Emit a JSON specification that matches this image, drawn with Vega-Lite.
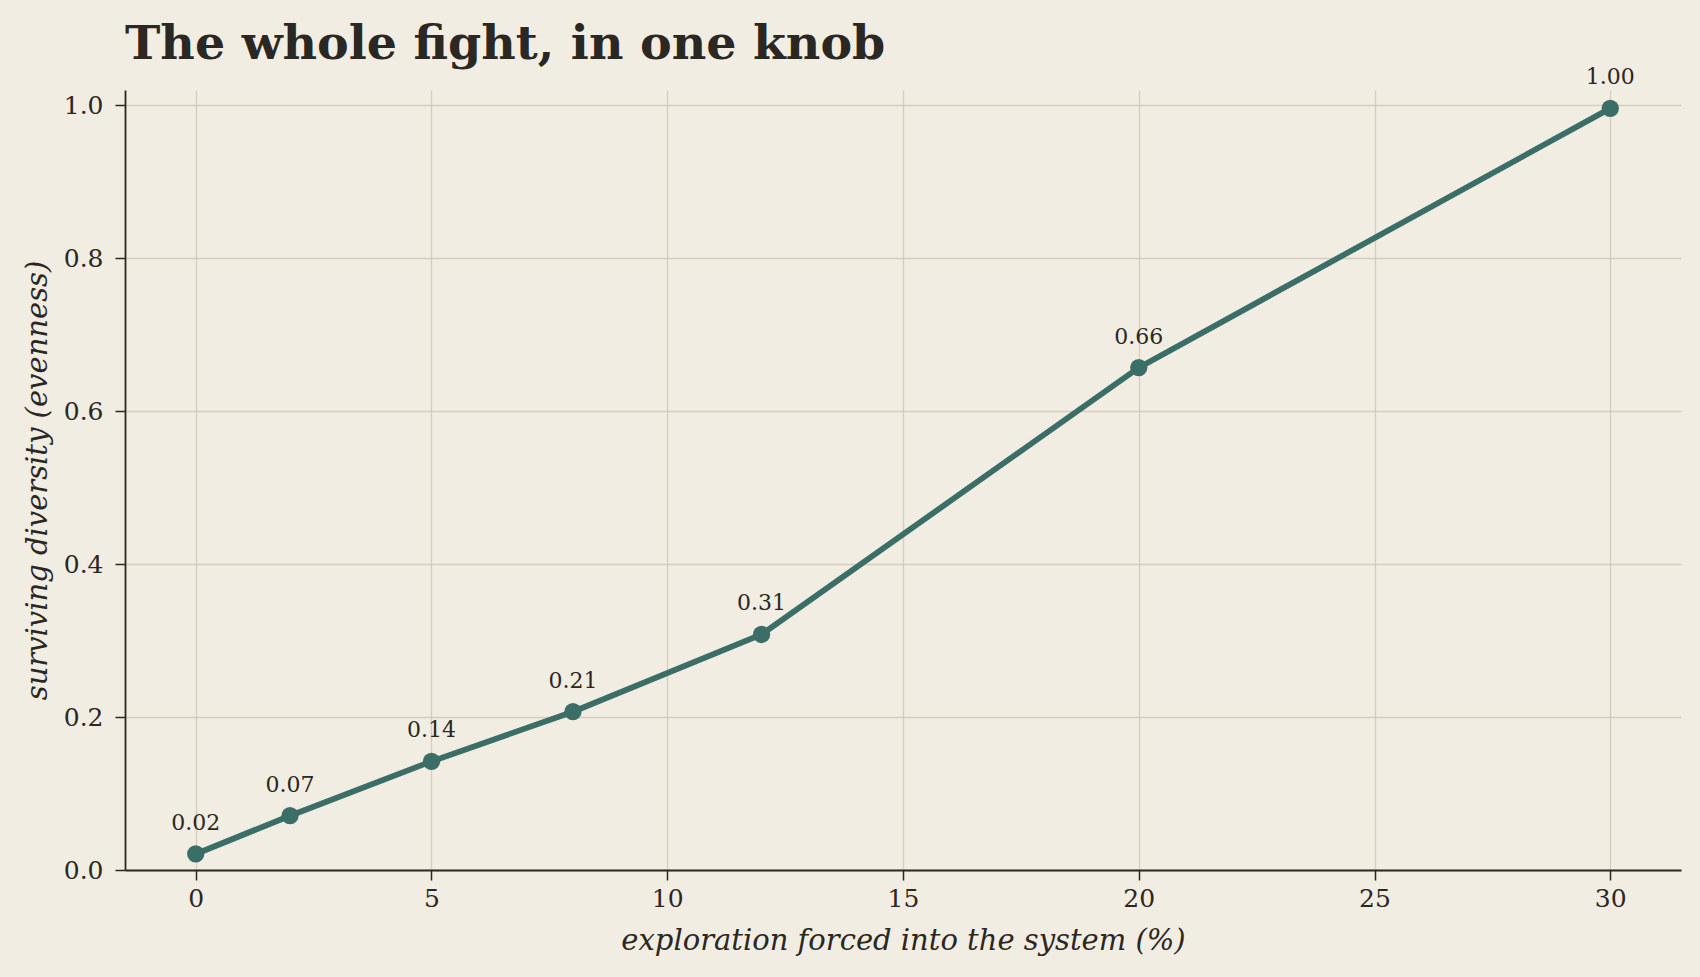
{
  "$schema": "https://vega.github.io/schema/vega-lite/v6.json",
  "autosize": "none",
  "width": 1556,
  "height": 780,
  "padding": {"left": 125, "top": 90, "right": 19, "bottom": 107},
  "background": "#f2ede2",
  "title": {
    "text": "The whole fight, in one knob",
    "anchor": "start",
    "frame": "group",
    "font": "DejaVu Serif",
    "fontSize": 47.5,
    "fontWeight": "bold",
    "color": "#2b2722",
    "offset": -2
  },
  "data": {
    "values": [
      {"exploration": 0, "evenness": 0.021},
      {"exploration": 2, "evenness": 0.071},
      {"exploration": 5, "evenness": 0.142},
      {"exploration": 8, "evenness": 0.207},
      {"exploration": 12, "evenness": 0.308},
      {"exploration": 20, "evenness": 0.657},
      {"exploration": 30, "evenness": 0.996}
    ]
  },
  "encoding": {
    "x": {
      "field": "exploration",
      "type": "quantitative",
      "scale": {"domain": [-1.5, 31.5], "nice": false, "zero": false},
      "axis": {"values": [0, 5, 10, 15, 20, 25, 30], "title": "exploration forced into the system (%)"}
    },
    "y": {
      "field": "evenness",
      "type": "quantitative",
      "scale": {"domain": [0, 1.02], "nice": false},
      "axis": {"values": [0, 0.2, 0.4, 0.6, 0.8, 1.0], "format": ".1f", "title": "surviving diversity (evenness)"}
    }
  },
  "layer": [
    {
      "mark": {"type": "line", "color": "#3c6e68", "strokeWidth": 5.8}
    },
    {
      "mark": {"type": "circle", "color": "#3c6e68", "size": 300, "opacity": 1}
    },
    {
      "mark": {"type": "text", "dy": -31, "font": "DejaVu Serif", "fontSize": 22, "color": "#2b2722"},
      "encoding": {"text": {"field": "evenness", "type": "quantitative", "format": ".2f"}}
    }
  ],
  "config": {
    "view": {"stroke": null},
    "axis": {
      "labelFont": "DejaVu Serif",
      "labelFontSize": 25,
      "labelColor": "#2b2722",
      "titleFont": "DejaVu Serif",
      "titleFontSize": 29,
      "titleFontStyle": "italic",
      "titleFontWeight": "normal",
      "titleColor": "#2b2722",
      "domainColor": "#2b2722",
      "domainWidth": 1.8,
      "tickColor": "#2b2722",
      "tickWidth": 1.5,
      "tickSize": 10,
      "grid": true,
      "gridColor": "#c4b8a8",
      "gridOpacity": 0.6,
      "gridWidth": 1.3
    },
    "axisX": {"labelPadding": 6, "titlePadding": 15},
    "axisY": {"labelPadding": 12, "titlePadding": 11}
  }
}
